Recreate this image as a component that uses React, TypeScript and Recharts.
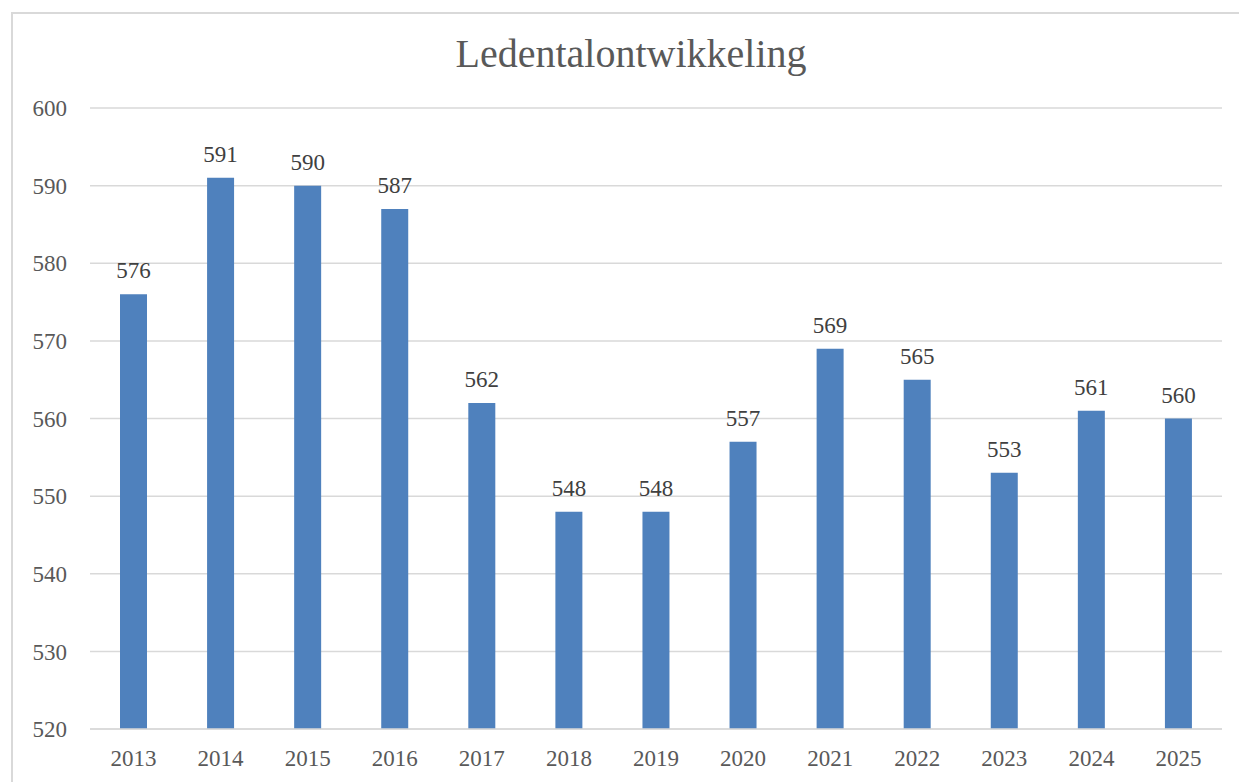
import { BarChart, Bar, XAxis, YAxis, CartesianGrid, LabelList } from 'recharts';

const years = ['2013', '2014', '2015', '2016', '2017', '2018', '2019', '2020', '2021', '2022', '2023', '2024', '2025'];
const members = [576, 591, 590, 587, 562, 548, 548, 557, 569, 565, 553, 561, 560];
const yTicks = [520, 530, 540, 550, 560, 570, 580, 590, 600];

const chartData = years.map((year, i) => ({ year, leden: members[i] }));

const font = '"Liberation Serif", serif';

export default function App() {
  return (
    <div
      style={{
        position: 'absolute',
        left: 0,
        top: 0,
        width: 1239,
        height: 782,
        overflow: 'hidden',
        background: '#fff',
        fontFamily: font,
      }}
    >
      {/* chart outline, only top and left edge are visible */}
      <div
        style={{
          position: 'absolute',
          left: 11,
          top: 12,
          width: 1400,
          height: 1000,
          border: '2px solid #d9d9d9',
        }}
      />
      <div
        style={{
          position: 'absolute',
          left: 0,
          top: 32,
          width: 1262,
          textAlign: 'center',
          fontSize: 40,
          color: '#595959',
          lineHeight: '44px',
        }}
      >
        Ledentalontwikkeling
      </div>
      <div style={{ position: 'absolute', left: 0, top: 0 }}>
        <BarChart
          width={1239}
          height={782}
          data={chartData}
          margin={{ top: 108, right: 17, bottom: 13, left: 0 }}
          barSize={27}
          style={{ fontFamily: font }}
        >
          <CartesianGrid vertical={false} stroke="#d9d9d9" strokeWidth={1.5} />
          <XAxis
            dataKey="year"
            height={40}
            tickLine={false}
            axisLine={{ stroke: '#d9d9d9', strokeWidth: 1.5 }}
            tickMargin={15}
            tick={{ fill: '#595959', fontSize: 23, fontFamily: font }}
          />
          <YAxis
            width={90}
            domain={[520, 600]}
            ticks={yTicks}
            tickLine={false}
            axisLine={false}
            tickMargin={17}
            tick={{ fill: '#595959', fontSize: 23, fontFamily: font }}
          />
          <Bar dataKey="leden" fill="#4f81bd" isAnimationActive={false}>
            <LabelList
              dataKey="leden"
              position="top"
              offset={16}
              fill="#404040"
              fontSize={23}
              fontFamily={font}
            />
          </Bar>
        </BarChart>
      </div>
    </div>
  );
}
